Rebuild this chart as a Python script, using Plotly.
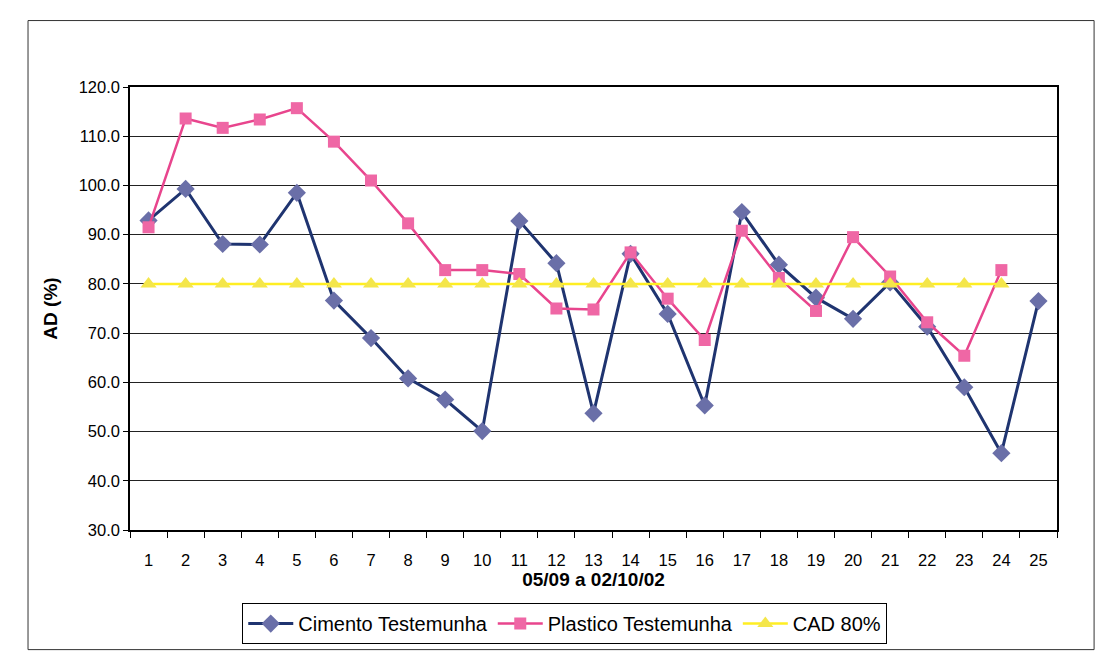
import plotly.graph_objects as go

days = list(range(1, 26))
cimento = [92.9, 99.3, 88.1, 88.0, 98.5, 76.6, 69.0, 60.8, 56.5, 50.1,
           92.8, 84.2, 53.7, 86.1, 73.9, 55.3, 94.6, 83.9, 77.2, 72.9,
           80.3, 71.3, 59.0, 45.6, 76.5]
plastico = [91.5, 113.6, 111.7, 113.4, 115.7, 108.9, 101.0, 92.3, 82.8, 82.8,
            82.0, 75.0, 74.8, 86.4, 77.0, 68.6, 90.8, 81.2, 74.5, 89.5,
            81.5, 72.2, 65.4, 82.8]
cad = [80.0] * 24

fig = go.Figure()
fig.add_trace(go.Scatter(
    x=days, y=cimento, name="Cimento Testemunha", mode="lines+markers",
    line=dict(color="#1f3470", width=3),
    marker=dict(symbol="diamond", size=14, color="#6a6fa8", line=dict(width=0))))
fig.add_trace(go.Scatter(
    x=days[:24], y=plastico, name="Plastico Testemunha", mode="lines+markers",
    line=dict(color="#e8458d", width=2.5),
    marker=dict(symbol="square", size=12, color="#ef67a5", line=dict(width=0))))
fig.add_trace(go.Scatter(
    x=days[:24], y=cad, name="CAD 80%", mode="lines+markers",
    line=dict(color="#ffee22", width=2.5),
    marker=dict(symbol="triangle-up", size=14, color="#f4e64a", line=dict(width=0))))

# outer chart border
fig.add_shape(type="rect", xref="paper", yref="paper",
              x0=-0.11, x1=1.04, y0=-0.27, y1=1.15,
              line=dict(color="#333", width=1))

# page body adds ~8px offset, so the canvas is a bit smaller than the window
fig.update_layout(
    width=1096, height=663,
    margin=dict(l=122, r=47, t=79, b=141),
    paper_bgcolor="white", plot_bgcolor="white",
    font=dict(family="Liberation Sans, Arial", size=16, color="black"),
    legend=dict(orientation="h", x=0.469, xanchor="center", y=-0.165, yanchor="top",
                bordercolor="black", borderwidth=1, font=dict(size=20),
                itemwidth=45),
    xaxis=dict(
        range=[0.5, 25.5], tickmode="array", tickvals=days,
        ticktext=[str(d) for d in days], ticks="", showgrid=False,
        showline=True, linecolor="black", linewidth=1.5, mirror=True, zeroline=False,
        tickfont=dict(size=16.5), ticklabelstandoff=14,
        minor=dict(ticks="outside", tick0=0.5, dtick=1, ticklen=6, tickcolor="black", showgrid=False),
        title=dict(text="<b>05/09 a 02/10/02</b>", font=dict(size=19), standoff=0)),
    yaxis=dict(
        range=[30, 120], dtick=10, tickformat=".1f", ticks="outside", ticklen=5,
        tickcolor="black", showgrid=True, gridcolor="#222", gridwidth=1.2,
        tickfont=dict(size=16.5),
        showline=True, linecolor="black", linewidth=1.5, mirror=True, zeroline=False,
        title=dict(text="<b>AD (%)</b>", font=dict(size=19), standoff=16)),
)

fig.write_html("out.html")
